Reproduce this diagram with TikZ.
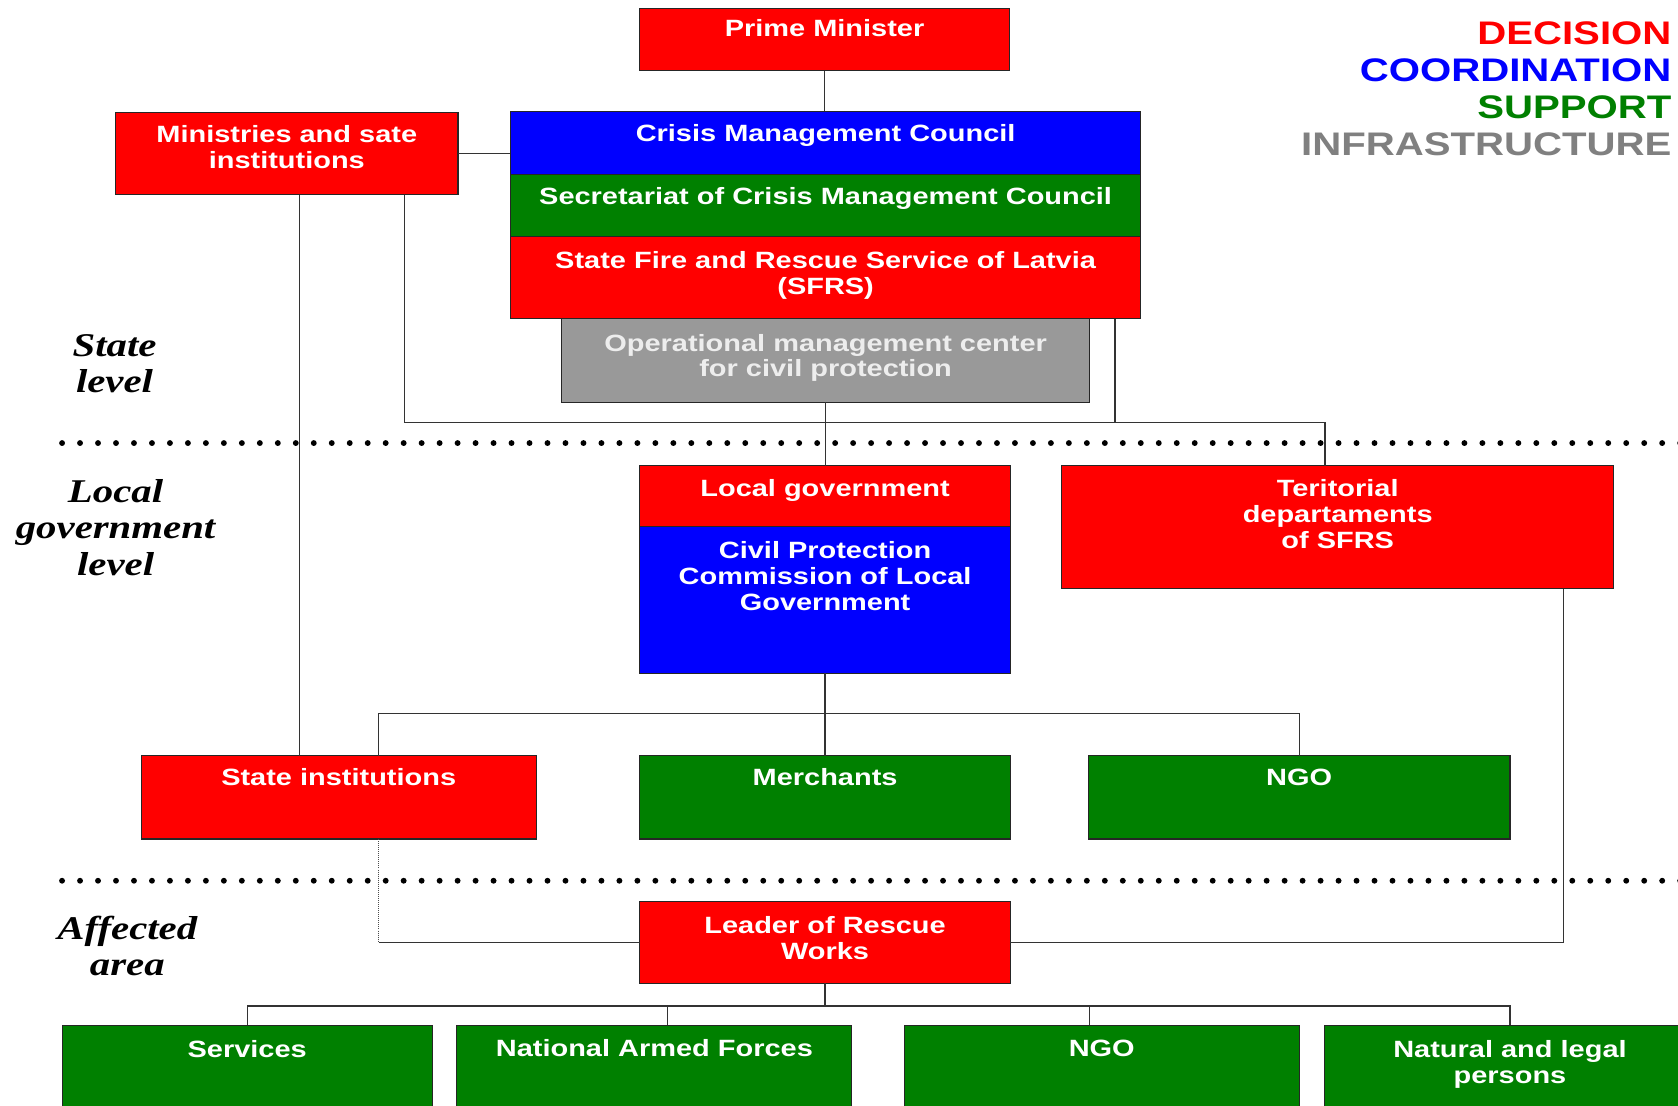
\documentclass[tikz,border=0pt]{standalone}
\usepackage{fontspec}
\setmainfont{Liberation Sans}
\newfontfamily\boxfont[FakeStretch=1.23]{Liberation Sans}
\newfontfamily\levfont[FakeStretch=1.23]{Liberation Serif}
\definecolor{cred}{HTML}{FF0000}
\definecolor{cblue}{HTML}{0000FF}
\definecolor{cgreen}{HTML}{008000}
\definecolor{cgray}{HTML}{999999}
\definecolor{lgray}{HTML}{808080}
\definecolor{ctext}{HTML}{EDEDED}
\newcommand\obox[8]{%
  \node[bx, fill=#6, minimum width={#4-#2}, minimum height={#5-#3}] (#1) at ({(#2+#4)/2},{(#3+#5)/2}) {};
  \node[bt, anchor=north] (#1-t) at ({(#2+#4)/2},{#7-8}) {#8};}
\begin{document}
\begin{tikzpicture}[x=1pt,y=-1pt,
  bx/.style={draw=black!85, line width=1, inner sep=0pt, outer sep=0pt, rectangle},
  bt/.style={text=white, align=center, inner sep=0pt, font=\boxfont\bfseries\fontsize{22}{24}\selectfont},
  conn/.style={draw=black!80, line width=1.2},
  dotsep/.style={line width=5.5, line cap=round, dash pattern=on 0pt off 16.8pt, black},
  lev/.style={align=center, inner sep=0pt, font=\levfont\bfseries\itshape\fontsize{31}{34}\selectfont},
  leg/.style={anchor=east, inner sep=0pt, font=\boxfont\bfseries\fontsize{30.5}{34}\selectfont}]
\useasboundingbox (0,0) rectangle (1568,1033);
\clip (0,0) rectangle (1568,1033);
\fill[white] (0,0) rectangle (1568,1033);

% separators
\draw[dotsep] (58,414) -- (1575,414);
\draw[dotsep] (58,823) -- (1575,823);

% boxes
\obox{pm}{598}{8}{943}{66}{cred}{26}{Prime Minister}
\obox{mins}{108}{105}{428}{182}{cred}{125}{Ministries and sate\\institutions}
\obox{cmc}{477}{104}{1066}{163}{cblue}{124}{Crisis Management Council}
\obox{sec}{477}{163}{1066}{221}{cgreen}{183}{Secretariat of Crisis Management Council}
\obox{sfrs}{477}{221}{1066}{298}{cred}{243}{State Fire and Rescue Service of Latvia\\(SFRS)}
\obox{omc}{525}{298}{1018}{376}{cgray}{320}{\textcolor{ctext}{Operational management center}\\\textcolor{ctext}{for civil protection}}
\obox{lg}{598}{435}{944}{492}{cred}{456}{Local government}
\obox{cpc}{598}{492}{944}{629}{cblue}{514}{Civil Protection\\Commission of Local\\Government}
\obox{ter}{992}{435}{1508}{550}{cred}{456}{Teritorial\\departaments\\of SFRS}
\obox{si}{132}{706}{501}{784}{cred}{726}{State institutions}
\obox{mer}{598}{706}{944}{784}{cgreen}{726}{Merchants}
\obox{ngoa}{1017}{706}{1411}{784}{cgreen}{726}{NGO}
\obox{lrw}{598}{842}{944}{919}{cred}{864}{Leader of Rescue\\Works}
\obox{srv}{58}{958}{404}{1050}{cgreen}{980}{Services}
\obox{naf}{427}{958}{796}{1050}{cgreen}{979}{National Armed Forces}
\obox{ngob}{845}{958}{1214}{1050}{cgreen}{980}{NGO}
\obox{nlp}{1238}{958}{1584}{1050}{cgreen}{980}{Natural and legal\\persons}

% legend
\node[leg, text=cred] (lg1) at (1562,31) {DECISION};
\node[leg, text=cblue] (lg2) at (1562,66) {COORDINATION};
\node[leg, text=cgreen] (lg3) at (1562,100) {SUPPORT};
\node[leg, text=lgray] (lg4) at (1562,135) {INFRASTRUCTURE};

% level labels
\node[lev] (lv1) at (107,340) {State\\level};
\node[lev] (lv2) at (108,493) {Local\\government\\level};
\node[lev] (lv3) at (119,884) {Affected\\area};

% connectors
\draw[conn] (pm.south) -- (pm.south |- cmc.north);
\draw[conn] (mins.east) -- (mins.east -| cmc.west);
\draw[conn] ([xshift=172]mins.south west) -- ([xshift=172]mins.south west |- si.north);
\draw[conn] ([xshift=270]mins.south west) -- ++(0,213) -| ([xshift=246]ter.north west);
\draw[conn] ([xshift=-24]sfrs.south east) -- ++(0,97);
\draw[conn] (omc.south) -- (omc.south |- lg.north);
\draw[conn] (cpc.south) -- (cpc.south |- mer.north);
\draw[conn] ([xshift=222]si.north west) -- ++(0,-39) -| (ngoa.north);
\draw[draw=black!70, line width=0.9, densely dotted] ([xshift=222]si.south west) -- ([xshift=222]si.south west |- lrw.west);
\draw[conn] ([xshift=222]si.south west |- lrw.west) -- (lrw.west);
\draw[conn] ([xshift=-47]ter.south east) |- (lrw.east);
\draw[conn] (lrw.south) -- ++(0,21);
\draw[conn] (srv.north) -- ++(0,-18) -| (nlp.north);
\draw[conn] ([xshift=197]naf.north west) -- ++(0,-18);
\draw[conn] ([xshift=173]ngob.north west) -- ++(0,-18);
\end{tikzpicture}
\end{document}
